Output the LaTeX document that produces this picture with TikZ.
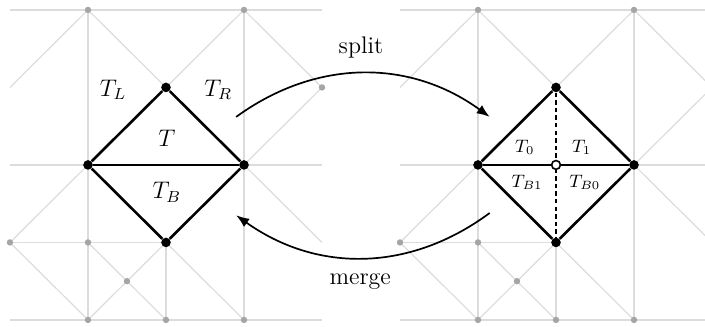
\documentclass[tikz,border=0pt]{standalone}
\usepackage{amsmath, amssymb}
\usetikzlibrary{arrows.meta, positioning, calc}
\definecolor{meshgray}{RGB}{220,220,220}
\definecolor{dotgray}{RGB}{165,165,165}

\begin{document}
\begin{tikzpicture}[x=39pt, y=38.75pt,
    mesh/.style={meshgray, line width=0.6pt},
    edge/.style={black, line width=1.3pt},
    vtx/.style={circle, fill=black, inner sep=0pt, minimum size=4.8pt},
    gvtx/.style={circle, fill=dotgray, inner sep=0pt, minimum size=3.2pt},
    flow/.style={-{Latex[length=6.5pt, width=5pt]}, line width=0.85pt}]
  \useasboundingbox (-0.128,-0.09) rectangle (8.91,4.128);
  \clip (-0.128,-0.09) rectangle (8.91,4.128);
  % grey mesh, the same in both panels
  \foreach \dx in {0,5} {
    \begin{scope}[shift={(\dx,0)}]
      \draw[mesh] (0,4) -- (4,4) (0,2) -- (4,2) (0,1) -- (2,1) (0,0) -- (4,0);
      \draw[mesh] (1,0) -- (1,4) (3,0) -- (3,4) (2,0) -- (2,1);
      \draw[mesh] (0,3) -- (1,4) -- (2,3) -- (3,4) -- (4,3) -- (3,2);
      \draw[mesh] (0,1) -- (1,2) (3,2) -- (4,1);
      \draw[mesh] (0,1) -- (1,0) -- (2,1) -- (3,0) (1,1) -- (2,0);
      \foreach \p in {(1,4),(3,4),(4,3),(0,1),(1,1),(1.5,0.5),(1,0),(2,0),(3,0)}
        \node[gvtx] at \p {};
    \end{scope}
  }
  % before the split
  \node[vtx] (lt) at (2,3) {};
  \node[vtx] (ll) at (1,2) {};
  \node[vtx] (lr) at (3,2) {};
  \node[vtx] (lb) at (2,1) {};
  \draw[edge] (lt) -- (ll) -- (lb) -- (lr) -- (lt);
  \draw[edge] (ll) -- (lr);
  \node[font=\large] at (1.32,2.97) {$T_L$};
  \node[font=\large] at (2.67,2.97) {$T_R$};
  \node[font=\large] at (2.01,2.35) {$T$};
  \node[font=\large] at (2.01,1.65) {$T_B$};
  % after the split
  \node[vtx] (rt) at (7,3) {};
  \node[vtx] (rl) at (6,2) {};
  \node[vtx] (rr) at (8,2) {};
  \node[vtx] (rb) at (7,1) {};
  \draw[edge] (rt) -- (rl) -- (rb) -- (rr) -- (rt);
  \draw[edge] (rl) -- (rr);
  \draw[edge, dash pattern=on 2.2pt off 1.6pt] (rt) -- (rb);
  \node[circle, draw=black, fill=white, line width=0.8pt, inner sep=0pt,
        minimum size=4.4pt] (rc) at (7,2) {};
  \node[font=\small] at (6.60,2.23) {$T_0$};
  \node[font=\small] at (7.33,2.23) {$T_1$};
  \node[font=\small] at (6.63,1.78) {$T_{B1}$};
  \node[font=\small] at (7.37,1.78) {$T_{B0}$};
  % split / merge arrows
  \coordinate (splitA) at (2.90,2.62);
  \coordinate (splitB) at (6.15,2.62);
  \coordinate (mergeA) at (6.15,1.38);
  \coordinate (mergeB) at (2.90,1.35);
  \draw[flow] (splitA) to[bend left=36] (splitB);
  \draw[flow] (mergeA) to[bend left=36] (mergeB);
  \node[font=\large] (splitlbl) at (4.50,3.52) {split};
  \node[font=\large] (mergelbl) at (4.49,0.49) {merge};
\end{tikzpicture}
\end{document}
